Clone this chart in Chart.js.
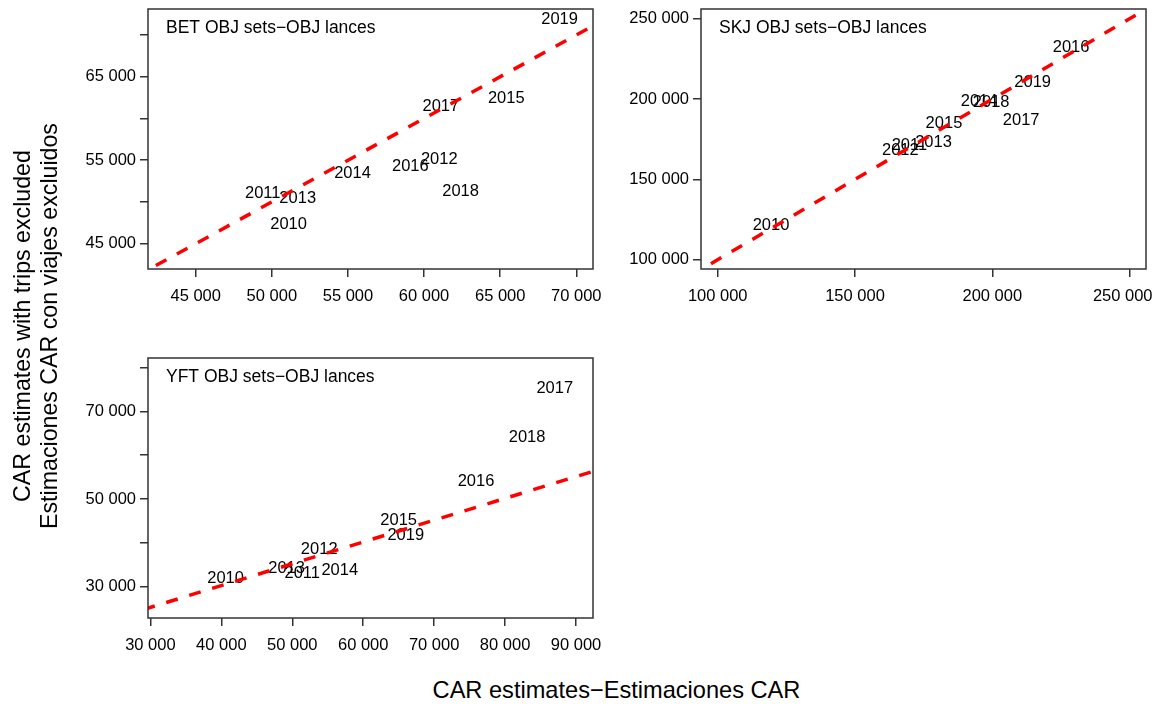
<!DOCTYPE html>
<html>
<head>
<meta charset="utf-8">
<script src="https://cdn.jsdelivr.net/npm/chart.js@4.4.1/dist/chart.umd.min.js"></script>
<style>
body { margin: 0; background: #fff; width: 1157px; height: 704px; overflow: hidden; position: relative;
       font-family: 'Liberation Sans', Arial, sans-serif; color: #000; }
canvas { position: absolute; }
#xTitle { position: absolute; left: 0; width: 1233px; top: 677px; line-height: 27px; text-align: center; font-size: 23.6px; }
#yTitle { position: absolute; left: -214px; top: 299px; width: 500px; line-height: 27px; text-align: center;
          font-size: 23.2px; transform: rotate(-90deg); transform-origin: 50% 50%; }
</style>
</head>
<body>
<canvas id="betCanvas" width="610" height="320" style="left:0px;top:0px"></canvas>
<canvas id="skjCanvas" width="537" height="320" style="left:620px;top:0px"></canvas>
<canvas id="yftCanvas" width="610" height="330" style="left:0px;top:340px"></canvas>
<div id="xTitle">CAR estimates&#8722;Estimaciones CAR</div>
<div id="yTitle">CAR estimates with trips excluded<br>Estimaciones CAR con viajes excluidos</div>

<script>
// Years (one label per point)
var years = ['2010', '2011', '2012', '2013', '2014', '2015', '2016', '2017', '2018', '2019'];

// BET: CAR estimate (x) vs estimate with trips excluded (y)
var betX = [51100, 49400, 61000, 51700, 55300, 65400, 59100, 61100, 62400, 68900];
var betY = [47300, 51000, 55100, 50400, 53400, 62400, 54200, 61400, 51300, 71900];
var betXTicks = [45000, 50000, 55000, 60000, 65000, 70000];
var betYTicks = [45000, 50000, 55000, 60000, 65000, 70000];
var betYLabelled = [45000, 55000, 65000];
var betLineX = [41000, 72000];
var betLineY = [41000, 72000];

// SKJ
var skjX = [119400, 169800, 166500, 178600, 195200, 182400, 228700, 210500, 199600, 214700];
var skjY = [121200, 171000, 167900, 173200, 198800, 184900, 232100, 186900, 197900, 210400];
var skjXTicks = [100000, 150000, 200000, 250000];
var skjYTicks = [100000, 150000, 200000, 250000];
var skjYLabelled = [100000, 150000, 200000, 250000];
var skjLineX = [90000, 260000];
var skjLineY = [90000, 260000];

// YFT
var yftX = [40600, 51400, 53800, 49200, 56700, 65000, 75900, 87000, 83100, 66000];
var yftY = [31900, 33100, 38400, 34200, 33800, 45100, 54100, 75200, 64100, 41700];
var yftXTicks = [30000, 40000, 50000, 60000, 70000, 80000, 90000];
var yftYTicks = [30000, 40000, 50000, 60000, 70000, 80000];
var yftYLabelled = [30000, 50000, 70000];
var yftLineX = [29000, 93000];
var yftLineY = [24800, 56600];

var FONT = "'Liberation Sans', Arial, sans-serif";
Chart.defaults.font.family = FONT;
Chart.defaults.color = '#000';

/**
 * Formats 45000 as "45 000".
 */
function fmt(v) {
    return String(v).replace(/\B(?=(\d{3})+(?!\d))/g, ' ');
}

/**
 * Draws the year labels (under the line), the box and the panel title.
 */
var panelText = {
    id: 'panelText',
    beforeDatasetsDraw: function (chart) {
        var ctx = chart.ctx;
        var meta = chart.getDatasetMeta(1);
        var labels = chart.data.datasets[1].yearLabels;
        ctx.save();
        ctx.fillStyle = '#000';
        ctx.font = '16.5px ' + FONT;
        ctx.textAlign = 'center';
        ctx.textBaseline = 'middle';
        for (var i = 0; i < meta.data.length; i++)
            ctx.fillText(labels[i], meta.data[i].x, meta.data[i].y);
        ctx.restore();
    },
    afterDatasetsDraw: function (chart, args, opts) {
        var ctx = chart.ctx, a = chart.chartArea;
        ctx.save();
        ctx.strokeStyle = '#333';
        ctx.lineWidth = 1.5;
        ctx.strokeRect(a.left, a.top, a.right - a.left, a.bottom - a.top);
        ctx.fillStyle = '#000';
        ctx.font = '17.5px ' + FONT;
        ctx.textAlign = 'left';
        ctx.textBaseline = 'middle';
        ctx.fillText(opts.title, a.left + 18, a.top + 19);
        ctx.restore();
    }
};

/**
 * One scatter panel with a dashed reference line.
 * lastPad: trailing spaces on the last x label, keeps it inside the page.
 */
function makePanel(id, title, xs, ys, lineX, lineY, xTicks, yTicks, yLabelled, xRange, yRange, yAxisW, xAxisH, pad, lastPad) {
    var pts = xs.map(function (v, i) { return {x: v, y: ys[i]}; });
    var line = lineX.map(function (v, i) { return {x: v, y: lineY[i]}; });

    return new Chart(document.getElementById(id), {
        type: 'scatter',
        data: {
            datasets: [{
                type: 'line',
                data: line,
                borderColor: '#ff0000',
                borderWidth: 3.5,
                borderDash: [12, 12],
                pointRadius: 0,
                fill: false,
                clip: 0
            }, {
                data: pts,
                yearLabels: years,
                pointRadius: 0,
                backgroundColor: 'rgba(0,0,0,0)'
            }]
        },
        options: {
            responsive: false,
            animation: false,
            devicePixelRatio: 1,
            layout: {padding: pad},
            plugins: {legend: {display: false}, tooltip: {enabled: false}, panelText: {title: title}},
            scales: {
                x: {
                    type: 'linear', min: xRange[0], max: xRange[1],
                    afterBuildTicks: function (s) { s.ticks = xTicks.map(function (v) { return {value: v}; }); },
                    afterFit: function (s) {
                        s.height = xAxisH;
                        s.paddingLeft = s.paddingRight = s.paddingTop = s.paddingBottom = 0;
                    },
                    grid: {drawOnChartArea: false, drawTicks: true, tickLength: 8, color: '#333', lineWidth: 1.5},
                    border: {display: false},
                    ticks: {callback: function (v, i, t) { return fmt(v) + (i === t.length - 1 ? (lastPad || '') : ''); },
                            font: {size: 16.5}, padding: 10, maxRotation: 0, autoSkip: false, color: '#000'}
                },
                y: {
                    type: 'linear', min: yRange[0], max: yRange[1],
                    afterBuildTicks: function (s) { s.ticks = yTicks.map(function (v) { return {value: v}; }); },
                    afterFit: function (s) {
                        s.width = yAxisW;
                        s.paddingLeft = s.paddingRight = s.paddingTop = s.paddingBottom = 0;
                    },
                    grid: {drawOnChartArea: false, drawTicks: true, tickLength: 8, color: '#333', lineWidth: 1.5},
                    border: {display: false},
                    ticks: {callback: function (v) { return yLabelled.indexOf(v) >= 0 ? fmt(v) : ''; },
                            font: {size: 16.5}, padding: 4, autoSkip: false, color: '#000'}
                }
            }
        },
        plugins: [panelText]
    });
}

makePanel('betCanvas', 'BET OBJ sets\u2212OBJ lances', betX, betY, betLineX, betLineY,
          betXTicks, betYTicks, betYLabelled, [41866, 71097], [41966, 73118], 148, 51,
          {left: 0, top: 9, right: 17, bottom: 0});
makePanel('skjCanvas', 'SKJ OBJ sets\u2212OBJ lances', skjX, skjY, skjLineX, skjLineY,
          skjXTicks, skjYTicks, skjYLabelled, [93914, 255977], [94209, 256040], 81, 51,
          {left: 0, top: 9, right: 11, bottom: 0}, '   ');
makePanel('yftCanvas', 'YFT OBJ sets\u2212OBJ lances', yftX, yftY, yftLineX, yftLineY,
          yftXTicks, yftYTicks, yftYLabelled, [29662, 92394], [22870, 82141], 148, 52,
          {left: 0, top: 18, right: 17, bottom: 0});
</script>
</body>
</html>
